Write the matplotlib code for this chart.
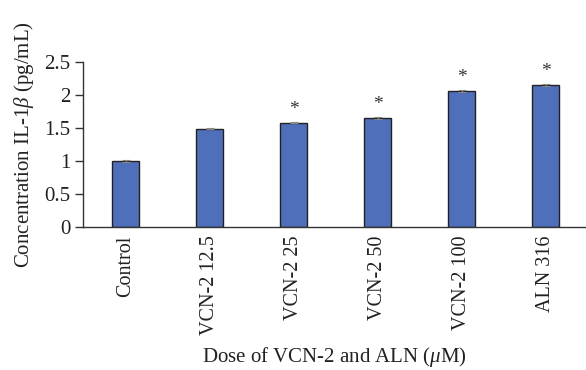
import matplotlib
matplotlib.use("Agg")
import matplotlib.pyplot as plt
import numpy as np

categories = ["Control", "VCN-2 12.5", "VCN-2 25", "VCN-2 50", "VCN-2 100", "ALN 316"]
values = [1.0, 1.49, 1.58, 1.65, 2.06, 2.15]
errors = [0.01, 0.01, 0.01, 0.01, 0.01, 0.01]
significant = [False, False, True, True, True, True]
yticks = [0, 0.5, 1, 1.5, 2, 2.5]
ytick_labels = ["0", "0.5", "1", "1.5", "2", "2.5"]

plt.rcParams["font.family"] = ["Liberation Serif", "DejaVu Serif"]
plt.rcParams["mathtext.fontset"] = "custom"
plt.rcParams["mathtext.it"] = "Liberation Serif:italic"
plt.rcParams["mathtext.rm"] = "Liberation Serif"

fig = plt.figure(figsize=(5.86, 3.70), dpi=100)
ax = fig.add_axes([0.1416, 0.3865, 0.8584, 0.4459])

x = np.arange(len(categories))
ax.bar(x, values, width=0.32, color="#4f6fba", edgecolor="#222222", linewidth=1.0,
       yerr=errors, error_kw=dict(ecolor="#888888", elinewidth=0.8, capsize=3, capthick=0.8),
       zorder=2)

for xi, v, e, s in zip(x, values, errors, significant):
    if s:
        ax.text(xi, v + e + 0.06, "*", ha="center", va="bottom", fontsize=14, color="#333333")

ax.set_xlim(-0.51, 5.48)
ax.set_ylim(0, 2.5)
ax.set_yticks(yticks)
ax.set_yticklabels(ytick_labels)
ax.set_xticks(x)
ax.set_xticklabels(categories, rotation=90)

for side in ["top", "right"]:
    ax.spines[side].set_visible(False)
for side in ["left", "bottom"]:
    ax.spines[side].set_color("#333333")
    ax.spines[side].set_linewidth(1.0)

ax.tick_params(axis="y", direction="out", length=6, width=1.0, color="#333333",
               labelsize=15, pad=3, labelcolor="#222222")
ax.tick_params(axis="x", length=0, labelsize=14.5, pad=6, labelcolor="#222222")

ax.set_ylabel(r"Concentration IL-1$\it{\beta}$ (pg/mL)", fontsize=15, color="#222222", labelpad=6)
ax.set_xlabel(r"Dose of VCN-2 and ALN ($\it{\mu}$M)", fontsize=15, color="#222222", labelpad=7)

fig.savefig("out.png", dpi=100)
